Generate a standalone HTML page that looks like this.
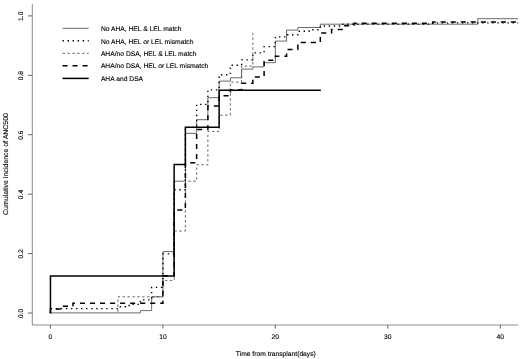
<!DOCTYPE html>
<html><head><meta charset="utf-8"><title>Cumulative Incidence of ANC500</title>
<style>html,body{margin:0;padding:0;background:#fff}body{width:520px;height:359px;overflow:hidden}</style></head>
<body>
<svg width="520" height="359" viewBox="0 0 520 359" style="display:block" text-rendering="geometricPrecision">
<rect width="520" height="359" fill="#fff"/>
<g transform="translate(0,0.4)" stroke="#000" stroke-width="0.6" fill="none" stroke-opacity="0.75">
<path d="M32.3,3.4 V324.6 H518.2"/>
<path d="M50.45,324.6 V328.1" stroke-width="0.8"/>
<path d="M162.9,324.6 V328.1" stroke-width="0.8"/>
<path d="M275.35,324.6 V328.1" stroke-width="0.8"/>
<path d="M387.8,324.6 V328.1" stroke-width="0.8"/>
<path d="M500.25,324.6 V328.1" stroke-width="0.8"/>
<path d="M32.3,312.6 H27.9" stroke-width="0.8"/>
<path d="M32.3,253.18 H27.9" stroke-width="0.8"/>
<path d="M32.3,193.76 H27.9" stroke-width="0.8"/>
<path d="M32.3,134.34 H27.9" stroke-width="0.8"/>
<path d="M32.3,74.92 H27.9" stroke-width="0.8"/>
<path d="M32.3,15.5 H27.9" stroke-width="0.8"/>
</g>
<g font-family="'Liberation Sans', Arial, Helvetica, sans-serif" font-size="6.73" fill="#000" stroke="#000" stroke-width="0.12" text-anchor="middle">
<text x="50.45" y="339.4">0</text>
<text x="162.9" y="339.4">10</text>
<text x="275.35" y="339.4">20</text>
<text x="387.8" y="339.4">30</text>
<text x="500.25" y="339.4">40</text>
<text transform="translate(22.8,313.35) rotate(-90)">0.0</text>
<text transform="translate(22.8,253.93) rotate(-90)">0.2</text>
<text transform="translate(22.8,194.51) rotate(-90)">0.4</text>
<text transform="translate(22.8,135.09) rotate(-90)">0.6</text>
<text transform="translate(22.8,75.67) rotate(-90)">0.8</text>
<text transform="translate(22.8,16.25) rotate(-90)">1.0</text>
<text x="275.8" y="356">Time from transplant(days)</text>
<text transform="translate(7.6,164) rotate(-90)" font-size="6.95">Cumulative Incidence of ANC500</text>
</g>
<g font-family="'Liberation Sans', Arial, Helvetica, sans-serif" font-size="6.73" fill="#000" stroke="#000" stroke-width="0.12">
<text x="100.9" y="30.7">No AHA, HEL &amp; LEL match</text>
<text x="100.9" y="43.8">No AHA, HEL or LEL mismatch</text>
<text x="100.9" y="55.7">AHA/no DSA, HEL &amp; LEL match</text>
<text x="100.9" y="68.4">AHA/no DSA, HEL or LEL mismatch</text>
<text x="100.9" y="80.8">AHA and DSA</text>
</g>
<path d="M62.5,28.3 H88.7" fill="none" stroke="#444" stroke-width="0.8"/>
<path d="M62.5,40.8 H88.7" fill="none" stroke="#000" stroke-width="1.4" stroke-dasharray="1.4 3.65"/>
<path d="M62.5,53.3 H88.7" fill="none" stroke="#444" stroke-width="0.8" stroke-dasharray="2.5 2.4"/>
<path d="M62.5,65.8 H88.7" fill="none" stroke="#000" stroke-width="1.5" stroke-dasharray="5.05 4.98"/>
<path d="M62.5,78.4 H88.7" fill="none" stroke="#000" stroke-width="1.5"/>
<g transform="translate(0,0.4)">
<polyline points="117.92,312.5 117.92,296.4 162.9,296.4 162.9,280 174.14,280 174.14,230.6 185.39,230.6 185.39,180.8 196.63,180.8 196.63,164.4 207.88,164.4 207.88,131 219.12,131 219.12,114.8 230.37,114.8 230.37,81.7 241.62,81.7 241.62,65.7 252.86,65.7 252.86,32.4" fill="none" stroke-linejoin="miter" stroke="#444" stroke-width="0.8" stroke-dasharray="2.5 2.4" stroke-dashoffset="3.77"/>
<polyline points="50.45,312.5 140.41,312.5 140.41,310.2 151.66,310.2 151.66,296.4 162.9,296.4 162.9,251.2 174.14,251.2 174.14,180.8 185.39,180.8 185.39,133.0 196.63,133.0 196.63,119.3 207.88,119.3 207.88,97.3 219.12,97.3 219.12,80.7 230.37,80.7 230.37,77.4 241.62,77.4 241.62,68.7 252.86,68.7 252.86,66.5 264.1,66.5 264.1,62.3 275.35,62.3 275.35,40.7 286.59,40.7 286.59,29.7 297.84,29.7 297.84,27.1 320.33,27.1 320.33,23.8 477.76,23.8 477.76,18.3 518.2,18.3" fill="none" stroke-linejoin="miter" stroke="#444" stroke-width="0.8"/>
<polyline points="50.45,312.5 50.45,308.2 117.92,308.2 117.92,306.4 129.16,306.4 129.16,304 140.41,304 140.41,299.5 151.66,299.5 151.66,287 162.9,287 162.9,253.5 174.14,253.5 174.14,189.3 185.39,189.3 185.39,127.0 196.63,127.0 196.63,104 207.88,104 207.88,89.5 219.12,89.5 219.12,74.4 230.37,74.4 230.37,64.8 241.62,64.8 241.62,59.5 252.86,59.5 252.86,52.5 264.1,52.5 264.1,46.2 275.35,46.2 275.35,36.5 286.59,36.5 286.59,34.4 297.84,34.4 297.84,30.8 309.08,30.8 309.08,29.3 320.33,29.3 320.33,25.6 342.82,25.6 342.82,23.7 432.78,23.7 432.78,22.5 518.2,22.5" fill="none" stroke-linejoin="miter" stroke="#000" stroke-width="1.4" stroke-dasharray="1.4 3.65" stroke-dashoffset="0.45"/>
<polyline points="50.45,312.5 50.45,308.7 61.7,308.7 61.7,305.8 72.94,305.8 72.94,302.8 162.9,302.8 162.9,275.3 174.14,275.3 174.14,209.5 185.39,209.5 185.39,162.3 196.63,162.3 196.63,129.1 207.88,129.1 207.88,105.7 219.12,105.7 219.12,95.3 230.37,95.3 230.37,89.5 241.62,89.5 241.62,82.8 252.86,82.8 252.86,76.5 264.1,76.5 264.1,59.8 275.35,59.8 275.35,55.8 286.59,55.8 286.59,49 297.84,49 297.84,42.2 320.33,42.2 320.33,32.5 331.57,32.5 331.57,29 342.82,29 342.82,25.3 354.06,25.3 354.06,22.8 432.78,22.8 432.78,21.6 518.2,21.6" fill="none" stroke-linejoin="miter" stroke="#000" stroke-width="1.5" stroke-dasharray="5.05 4.98" stroke-dashoffset="0.9"/>
<polyline points="50.45,313.0 50.45,275.5 174.14,275.5 174.14,164.1 185.39,164.1 185.39,126.9 219.12,126.9 219.12,89.8 320.83,89.8" fill="none" stroke-linejoin="miter" stroke="#000" stroke-width="1.5"/>
</g>
</svg>
</body></html>
